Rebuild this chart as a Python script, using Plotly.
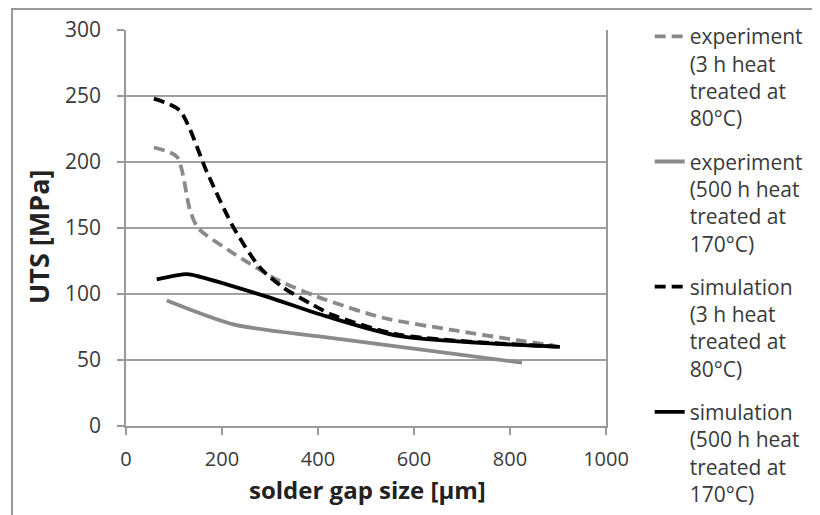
import plotly.graph_objects as go

# experiment (3 h heat treated at 80°C)
exp3_x = [58, 106, 133, 150, 223, 314, 398, 535, 675, 815, 890]
exp3_y = [211, 204, 164, 150, 131, 111, 98, 82, 73, 65, 61]
# experiment (500 h heat treated at 170°C)
exp500_x = [85, 223, 398, 571, 825]
exp500_y = [95, 77, 68, 60, 48]
# simulation (3 h heat treated at 80°C)
sim3_x = [58, 112, 169, 223, 279, 327, 383, 431, 571, 904]
sim3_y = [248, 239, 192, 151, 120, 105, 93, 84, 69, 60]
# simulation (500 h heat treated at 170°C)
sim500_x = [64, 127, 154, 293, 418, 571, 904]
sim500_y = [111, 115, 113, 98, 83, 68, 60]

names = [
    "experiment<br>(3 h heat<br>treated at<br>80°C)",
    "experiment<br>(500 h heat<br>treated at<br>170°C)",
    "simulation<br>(3 h heat<br>treated at<br>80°C)",
    "simulation<br>(500 h heat<br>treated at<br>170°C)",
]
x_title = "solder gap size [µm]"
y_title = "UTS [MPa]"

GREY = "#8a8a8a"
DASH = "11px,6px"
W = 3.8

fig = go.Figure()
series = [(exp3_x, exp3_y, GREY, DASH), (exp500_x, exp500_y, GREY, "solid"),
          (sim3_x, sim3_y, "black", DASH), (sim500_x, sim500_y, "black", "solid")]
for i, (xs, ys, c, d) in enumerate(series):
    fig.add_trace(go.Scatter(x=xs, y=ys, name=names[i], mode="lines", legendgroup=f"g{i}",
                             line=dict(color=c, width=W, dash=d, shape="spline", smoothing=0.7)))

FONT = "Open Sans"
TXT = "#3a3a3a"
fig.update_layout(
    width=812, height=507,
    margin=dict(l=118, r=214, t=22, b=89, autoexpand=False),
    paper_bgcolor="white", plot_bgcolor="white",
    font=dict(family=FONT, color=TXT, size=21),
    showlegend=True,
    legend=dict(x=1.091, y=1.035, xanchor="left", yanchor="top", valign="top",
                font=dict(family=FONT, size=21, color=TXT), maxheight=600,
                tracegroupgap=13, bgcolor="rgba(0,0,0,0)", itemwidth=30),
    xaxis=dict(range=[0, 1000], tickvals=[0, 200, 400, 600, 800, 1000], automargin=False,
               showgrid=False, showline=True, linecolor="#999999", linewidth=1.5,
               ticks="outside", ticklen=7, tickcolor="#999999", tickwidth=1.5,
               ticklabelstandoff=7,
               zeroline=False, tickfont=dict(size=20, color=TXT)),
    yaxis=dict(range=[0, 300], tickvals=[0, 50, 100, 150, 200, 250, 300], automargin=False,
               showgrid=True, gridcolor="#a0a0a0", gridwidth=1.5,
               showline=True, linecolor="#999999", linewidth=1.5, mirror=True,
               ticks="outside", ticklen=7, tickcolor="#999999", tickwidth=1.5,
               ticklabelstandoff=12,
               zeroline=False, tickfont=dict(size=21, color=TXT)),
)

fig.add_annotation(text=f"<b>{x_title}</b>", xref="paper", yref="paper",
                   x=0.504, y=-0.1616, xanchor="center", yanchor="middle", showarrow=False,
                   font=dict(family=FONT, size=24, color="#222222"))
fig.add_annotation(text=f"<b>{y_title}</b>", xref="paper", yref="paper", textangle=-90,
                   x=-0.1833, y=0.477, xanchor="center", yanchor="middle", showarrow=False,
                   font=dict(family=FONT, size=27, color="#222222"))

# outer chart border
fig.add_shape(type="rect", xref="paper", yref="paper",
              x0=-0.2375, y0=-0.4, x1=1.6, y1=1.053,
              line=dict(color="#999999", width=2), layer="below")

fig.write_html("out.html")
